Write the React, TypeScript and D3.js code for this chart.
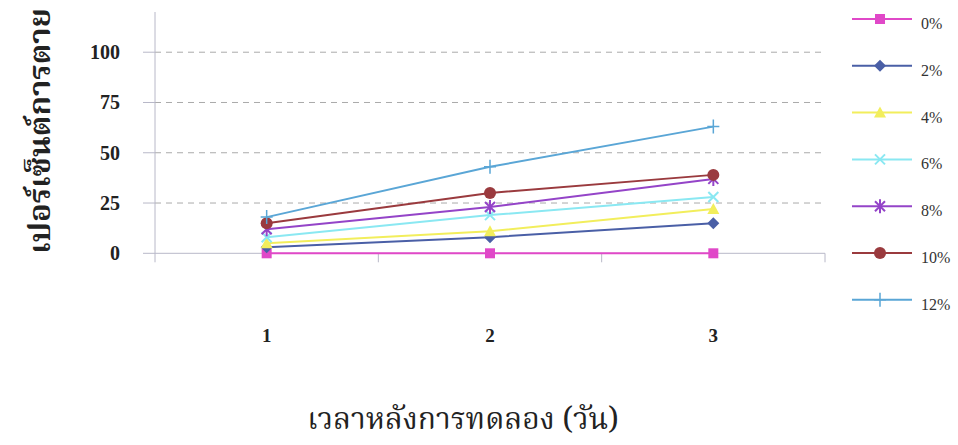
import React from "react";
import * as d3 from "d3";

const days = ["1", "2", "3"];
const seriesNames = ["0%", "2%", "4%", "6%", "8%", "10%", "12%"];
const v0 = [0, 0, 0];
const v2 = [3, 8, 15];
const v4 = [5, 11, 22];
const v6 = [8, 19, 28];
const v8 = [12, 23, 37];
const v10 = [15, 30, 39];
const v12 = [18, 43, 63];
const yTicks = [0, 25, 50, 75, 100];
const seriesValues = [v0, v2, v4, v6, v8, v10, v12];
const colors = ["#e048c8", "#4a5fa6", "#f2ee5c", "#8ae8f2", "#9444c8", "#9a3a3e", "#5aa6d6"];
const markers = ["square", "diamond", "triangle", "x", "star", "circle", "plus"];

const W = 958, H = 445;
const left = 155, right = 825, top = 12, bottom = 253.3;

function Marker({ kind, x, y, color }: { kind: string; x: number; y: number; color: string }) {
  const s = 5;
  switch (kind) {
    case "square":
      return <rect x={x - s} y={y - s} width={2 * s} height={2 * s} fill={color} />;
    case "diamond":
      return <path d={`M${x},${y - 6}L${x + 6},${y}L${x},${y + 6}L${x - 6},${y}Z`} fill={color} />;
    case "triangle":
      return <path d={`M${x},${y - 6}L${x + 6},${y + 5}L${x - 6},${y + 5}Z`} fill={color} />;
    case "x":
      return (
        <path d={`M${x - 5},${y - 5}L${x + 5},${y + 5}M${x - 5},${y + 5}L${x + 5},${y - 5}`} stroke={color} strokeWidth={2} />
      );
    case "star":
      return (
        <path
          d={`M${x - 5},${y - 5}L${x + 5},${y + 5}M${x - 5},${y + 5}L${x + 5},${y - 5}M${x},${y - 7}L${x},${y + 7}`}
          stroke={color}
          strokeWidth={2}
        />
      );
    case "circle":
      return <circle cx={x} cy={y} r={6} fill={color} />;
    case "plus":
      return <path d={`M${x - 6},${y}L${x + 6},${y}M${x},${y - 7}L${x},${y + 7}`} stroke={color} strokeWidth={1.5} />;
  }
  return null;
}

export default function App() {
  const x = d3.scaleBand<string>().domain(days).range([left, right]);
  const y = d3.scaleLinear().domain([0, 120]).range([bottom, top]);
  const line = d3
    .line<number>()
    .x((_, i) => (x(days[i]) as number) + x.bandwidth() / 2)
    .y((d) => y(d));
  const boundaries = d3.range(days.length + 1).map((i) => left + i * x.bandwidth());
  const serif = "'Liberation Serif', 'Times New Roman', serif";
  const thai = "'Noto Serif Thai', 'Noto Sans Thai', 'Loma', 'Garuda', sans-serif";

  return (
    <svg width={W} height={H} style={{ position: "absolute", left: 0, top: 0, background: "#fff" }}>
      <rect x={0} y={0} width={W} height={H} fill="#fff" />
      {yTicks.filter((t) => t > 0).map((t) => (
        <line key={t} x1={left} x2={right} y1={y(t)} y2={y(t)} stroke="#aaa" strokeDasharray="6,5" strokeWidth={1} />
      ))}
      <line x1={left} x2={left} y1={top} y2={bottom} stroke="#b8b8c8" strokeWidth={1} />
      <line x1={left} x2={right} y1={bottom} y2={bottom} stroke="#b8b8c8" strokeWidth={1} />
      {yTicks.map((t) => (
        <g key={t}>
          <line x1={left - 12} x2={left} y1={y(t)} y2={y(t)} stroke="#b8b8c8" />
          <text x={120} y={y(t)} dy="0.35em" textAnchor="end" fontFamily={serif} fontWeight="bold" fontSize={20} fill="#222">
            {t}
          </text>
        </g>
      ))}
      {boundaries.map((b, i) => (
        <line key={i} x1={b} x2={b} y1={bottom} y2={bottom + 9} stroke="#b8b8c8" />
      ))}
      {days.map((d) => (
        <text key={d} x={(x(d) as number) + x.bandwidth() / 2} y={342} textAnchor="middle" fontFamily={serif} fontWeight="bold" fontSize={19} fill="#222">
          {d}
        </text>
      ))}
      {seriesValues.map((vals, si) => (
        <g key={si}>
          <path d={line(vals) || ""} fill="none" stroke={colors[si]} strokeWidth={2} />
          {vals.map((v, i) => (
            <Marker key={i} kind={markers[si]} x={(x(days[i]) as number) + x.bandwidth() / 2} y={y(v)} color={colors[si]} />
          ))}
        </g>
      ))}
      {seriesNames.map((n, i) => {
        const ly = 19 + i * 46.8;
        return (
          <g key={n}>
            <line x1={852} x2={912} y1={ly} y2={ly} stroke={colors[i]} strokeWidth={2} />
            <Marker kind={markers[i]} x={880} y={ly} color={colors[i]} />
            <text x={921} y={ly + 10} fontFamily={serif} fontSize={16} fill="#333">
              {n}
            </text>
          </g>
        );
      })}
      <text
        transform={`translate(50,131) rotate(-90)`}
        textAnchor="middle"
        fontFamily={thai}
        fontWeight="bold"
        fontSize={31}
        fill="#222"
      >
        เปอร์เซ็นต์การตาย
      </text>
      <text x={463} y={429} textAnchor="middle" fontFamily={thai} fontSize={30} fill="#222">
        เวลาหลังการทดลอง (วัน)
      </text>
    </svg>
  );
}
